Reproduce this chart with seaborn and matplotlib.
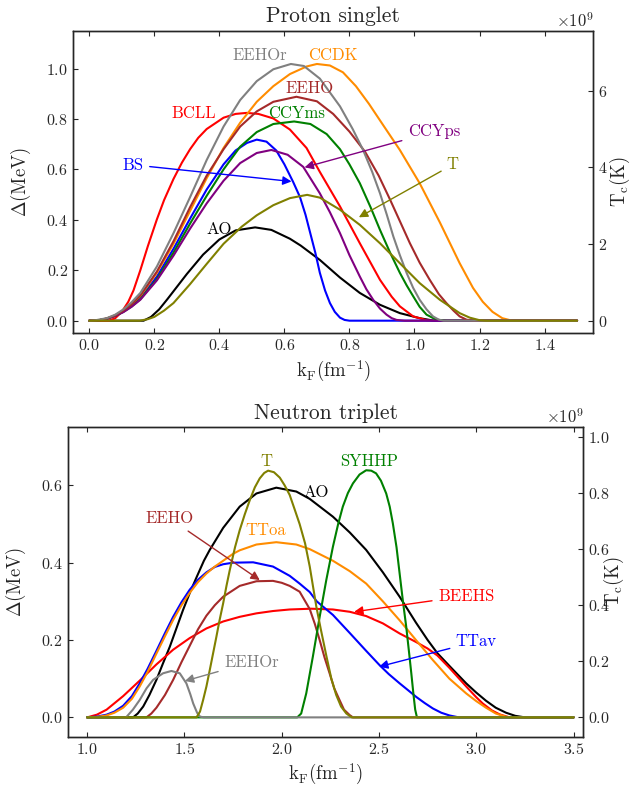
import numpy as np
import matplotlib
matplotlib.use('Agg')
import matplotlib.pyplot as plt
import seaborn as sns

# (kF [fm^-1], gap [MeV]) points

# ---- proton singlet ----
p_ao = [(0.0, 0), (0.167, 0), (0.19, 0.015), (0.215, 0.045), (0.24, 0.085), (0.27, 0.135),
        (0.3, 0.185), (0.35, 0.262), (0.4, 0.322), (0.45, 0.358), (0.51, 0.37), (0.56, 0.36),
        (0.617, 0.325), (0.65, 0.298), (0.709, 0.241), (0.771, 0.171), (0.832, 0.11),
        (0.894, 0.063), (0.955, 0.03), (1.016, 0.01), (1.06, 0), (1.5, 0)]
p_bcll = [(0.0, 0), (0.06, 0), (0.08, 0.01), (0.1, 0.035), (0.12, 0.075), (0.136, 0.12),
          (0.157, 0.2), (0.18, 0.295), (0.208, 0.402), (0.23, 0.478), (0.259, 0.562),
          (0.285, 0.627), (0.31, 0.68), (0.335, 0.725), (0.361, 0.76), (0.413, 0.805),
          (0.45, 0.82), (0.484, 0.824), (0.52, 0.82), (0.566, 0.802), (0.617, 0.758),
          (0.668, 0.685), (0.709, 0.59), (0.771, 0.453), (0.832, 0.307), (0.894, 0.162),
          (0.93, 0.095), (0.955, 0.057), (0.996, 0.017), (1.037, 0.002), (1.06, 0), (1.5, 0)]
p_bs = [(0.0, 0), (0.03, 0.002), (0.054, 0.008), (0.08, 0.02), (0.105, 0.037), (0.13, 0.06),
        (0.157, 0.09), (0.208, 0.175), (0.259, 0.285), (0.31, 0.405), (0.361, 0.52), (0.413, 0.62),
        (0.45, 0.675), (0.485, 0.705), (0.515, 0.718), (0.545, 0.71), (0.575, 0.675), (0.6, 0.62),
        (0.627, 0.55), (0.648, 0.49), (0.665, 0.42), (0.679, 0.35), (0.695, 0.27), (0.709, 0.19),
        (0.725, 0.12), (0.74, 0.07), (0.755, 0.035), (0.771, 0.012), (0.785, 0.003), (0.8, 0),
        (1.5, 0)]
p_ccdk = [(0.0, 0), (0.03, 0.002), (0.054, 0.009), (0.08, 0.022), (0.105, 0.04), (0.13, 0.065),
          (0.157, 0.097), (0.208, 0.19), (0.259, 0.305), (0.31, 0.435), (0.361, 0.565),
          (0.413, 0.685), (0.464, 0.785), (0.515, 0.868), (0.566, 0.93), (0.617, 0.978),
          (0.668, 1.008), (0.70, 1.018), (0.74, 1.012), (0.78, 0.985), (0.82, 0.93), (0.86, 0.86),
          (0.904, 0.775), (0.955, 0.677), (1.016, 0.545), (1.078, 0.39), (1.139, 0.228),
          (1.18, 0.13), (1.21, 0.075), (1.24, 0.035), (1.27, 0.01), (1.3, 0), (1.5, 0)]
p_ccyms = [(0.0, 0), (0.03, 0.002), (0.054, 0.008), (0.08, 0.019), (0.105, 0.035), (0.13, 0.056),
           (0.157, 0.085), (0.208, 0.165), (0.259, 0.27), (0.31, 0.385), (0.361, 0.495),
           (0.413, 0.6), (0.464, 0.69), (0.515, 0.748), (0.566, 0.78), (0.63, 0.79), (0.68, 0.78),
           (0.73, 0.74), (0.771, 0.68), (0.8, 0.62), (0.832, 0.545), (0.865, 0.45), (0.894, 0.36),
           (0.925, 0.27), (0.955, 0.19), (0.976, 0.14), (0.996, 0.097), (1.016, 0.055),
           (1.037, 0.024), (1.067, 0.004), (1.1, 0), (1.5, 0)]
p_ccyps = [(0.0, 0), (0.03, 0.002), (0.054, 0.008), (0.08, 0.019), (0.105, 0.034), (0.13, 0.055),
           (0.157, 0.083), (0.208, 0.16), (0.259, 0.258), (0.31, 0.365), (0.361, 0.465),
           (0.413, 0.555), (0.464, 0.625), (0.515, 0.665), (0.56, 0.677), (0.61, 0.658),
           (0.658, 0.61), (0.709, 0.505), (0.74, 0.43), (0.771, 0.347), (0.8, 0.26), (0.832, 0.175),
           (0.852, 0.125), (0.873, 0.083), (0.894, 0.048), (0.914, 0.024), (0.93, 0.01),
           (0.945, 0.003), (0.97, 0), (1.5, 0)]
p_eeho = [(0.0, 0), (0.03, 0.002), (0.054, 0.009), (0.08, 0.021), (0.105, 0.04), (0.13, 0.065),
          (0.157, 0.1), (0.208, 0.195), (0.259, 0.315), (0.31, 0.45), (0.361, 0.575), (0.413, 0.68),
          (0.464, 0.77), (0.515, 0.83), (0.566, 0.868), (0.637, 0.888), (0.7, 0.87), (0.75, 0.82),
          (0.8, 0.75), (0.848, 0.67), (0.89, 0.575), (0.925, 0.48), (0.955, 0.395), (0.986, 0.307),
          (1.016, 0.23), (1.047, 0.162), (1.075, 0.105), (1.098, 0.07), (1.12, 0.04),
          (1.139, 0.017), (1.16, 0.004), (1.18, 0), (1.5, 0)]
p_eehor = [(0.0, 0), (0.02, 0.002), (0.054, 0.01), (0.08, 0.024), (0.105, 0.045), (0.13, 0.073),
           (0.157, 0.11), (0.208, 0.215), (0.259, 0.347), (0.31, 0.49), (0.361, 0.637),
           (0.413, 0.77), (0.464, 0.875), (0.515, 0.95), (0.566, 0.997), (0.62, 1.018), (0.66, 1.01),
           (0.709, 0.96), (0.771, 0.85), (0.81, 0.76), (0.842, 0.677), (0.87, 0.59), (0.894, 0.505),
           (0.915, 0.42), (0.935, 0.334), (0.955, 0.26), (0.976, 0.189), (0.996, 0.13),
           (1.016, 0.083), (1.037, 0.045), (1.057, 0.017), (1.075, 0.004), (1.09, 0), (1.5, 0)]
p_t = [(0.0, 0), (0.155, 0), (0.18, 0.006), (0.2, 0.015), (0.23, 0.04), (0.259, 0.07), (0.31, 0.145),
       (0.361, 0.225), (0.413, 0.305), (0.469, 0.373), (0.515, 0.418), (0.566, 0.458),
       (0.617, 0.486), (0.67, 0.499), (0.709, 0.488), (0.771, 0.44), (0.832, 0.38), (0.894, 0.307),
       (0.955, 0.228), (1.016, 0.149), (1.078, 0.083), (1.139, 0.03), (1.17, 0.012), (1.2, 0.002),
       (1.22, 0), (1.5, 0)]

# ---- neutron triplet ----
n_ao = [(1.0, 0), (1.236, 0), (1.26, 0.01), (1.288, 0.028), (1.32, 0.058), (1.356, 0.097),
        (1.39, 0.14), (1.425, 0.183), (1.46, 0.232), (1.493, 0.278), (1.53, 0.325), (1.562, 0.362),
        (1.6, 0.405), (1.63, 0.433), (1.699, 0.49), (1.784, 0.545), (1.87, 0.579), (1.972, 0.594),
        (2.075, 0.584), (2.144, 0.565), (2.263, 0.519), (2.35, 0.478), (2.434, 0.433),
        (2.52, 0.375), (2.606, 0.312), (2.69, 0.245), (2.75, 0.2), (2.8, 0.166), (2.862, 0.133),
        (2.948, 0.088), (3.0, 0.064), (3.05, 0.043), (3.1, 0.025), (3.153, 0.012), (3.2, 0.004),
        (3.25, 0), (3.5, 0)]
n_beehs = [(1.0, 0), (1.05, 0.007), (1.1, 0.02), (1.185, 0.055), (1.27, 0.095), (1.356, 0.137),
           (1.442, 0.175), (1.527, 0.205), (1.613, 0.23), (1.699, 0.248), (1.784, 0.26),
           (1.87, 0.269), (1.955, 0.275), (2.041, 0.279), (2.15, 0.281), (2.263, 0.279),
           (2.35, 0.273), (2.434, 0.262), (2.52, 0.243), (2.606, 0.217), (2.69, 0.195),
           (2.75, 0.178), (2.8, 0.16), (2.862, 0.128), (2.948, 0.08), (3.0, 0.052), (3.033, 0.036),
           (3.08, 0.018), (3.119, 0.008), (3.17, 0), (3.5, 0)]
n_eeho = [(1.0, 0), (1.305, 0), (1.33, 0.01), (1.356, 0.025), (1.4, 0.058), (1.442, 0.097),
          (1.485, 0.143), (1.527, 0.185), (1.57, 0.228), (1.613, 0.263), (1.656, 0.29),
          (1.699, 0.312), (1.784, 0.34), (1.87, 0.352), (1.955, 0.353), (2.0, 0.348),
          (2.041, 0.34), (2.092, 0.325), (2.144, 0.28), (2.17, 0.242), (2.195, 0.2), (2.22, 0.155),
          (2.246, 0.114), (2.27, 0.075), (2.297, 0.045), (2.32, 0.02), (2.349, 0.006),
          (2.366, 0), (3.5, 0)]
n_ttav = [(1.0, 0), (1.05, 0.002), (1.1, 0.007), (1.14, 0.015), (1.185, 0.03), (1.23, 0.055),
          (1.27, 0.088), (1.31, 0.125), (1.356, 0.172), (1.4, 0.218), (1.442, 0.26), (1.485, 0.298),
          (1.527, 0.33), (1.57, 0.356), (1.613, 0.375), (1.656, 0.389), (1.699, 0.396),
          (1.75, 0.4), (1.853, 0.401), (1.955, 0.39), (2.041, 0.366), (2.092, 0.346),
          (2.144, 0.324), (2.18, 0.3), (2.263, 0.265), (2.35, 0.218), (2.434, 0.172),
          (2.503, 0.135), (2.55, 0.112), (2.606, 0.088), (2.65, 0.07), (2.691, 0.053),
          (2.735, 0.037), (2.777, 0.023), (2.82, 0.012), (2.862, 0.005), (2.91, 0), (3.5, 0)]
n_ttoa = [(1.0, 0), (1.05, 0.001), (1.1, 0.005), (1.14, 0.012), (1.185, 0.025), (1.23, 0.048),
          (1.27, 0.08), (1.31, 0.117), (1.356, 0.165), (1.4, 0.21), (1.442, 0.252), (1.485, 0.29),
          (1.527, 0.322), (1.57, 0.35), (1.613, 0.372), (1.656, 0.39), (1.699, 0.405),
          (1.75, 0.423), (1.784, 0.432), (1.87, 0.447), (1.972, 0.453), (2.075, 0.447),
          (2.144, 0.435), (2.263, 0.405), (2.35, 0.378), (2.434, 0.346), (2.52, 0.3),
          (2.606, 0.251), (2.69, 0.2), (2.777, 0.148), (2.862, 0.1), (2.948, 0.062), (3.0, 0.042),
          (3.05, 0.025), (3.1, 0.01), (3.15, 0.002), (3.18, 0), (3.5, 0)]
n_syhhp = [(1.0, 0), (2.08, 0), (2.1, 0.01), (2.126, 0.062), (2.16, 0.157), (2.195, 0.26),
           (2.229, 0.355), (2.263, 0.441), (2.29, 0.5), (2.314, 0.545), (2.34, 0.58),
           (2.366, 0.605), (2.4, 0.628), (2.434, 0.639), (2.46, 0.638), (2.485, 0.631),
           (2.51, 0.612), (2.537, 0.579), (2.555, 0.545), (2.571, 0.502), (2.59, 0.44),
           (2.606, 0.372), (2.623, 0.3), (2.64, 0.234), (2.654, 0.17), (2.666, 0.114),
           (2.677, 0.06), (2.686, 0.02), (2.695, 0), (3.5, 0)]
n_eehor = [(1.0, 0), (1.2, 0), (1.235, 0.02), (1.27, 0.045), (1.305, 0.075), (1.339, 0.097),
           (1.39, 0.114), (1.433, 0.12), (1.476, 0.114), (1.51, 0.088), (1.53, 0.06),
           (1.545, 0.036), (1.565, 0.012), (1.58, 0.002), (1.6, 0), (3.5, 0)]
n_t = [(1.0, 0), (1.562, 0), (1.58, 0.015), (1.596, 0.045), (1.613, 0.08), (1.63, 0.122),
       (1.647, 0.165), (1.664, 0.208), (1.68, 0.25), (1.699, 0.295), (1.716, 0.34), (1.733, 0.381),
       (1.76, 0.44), (1.784, 0.484), (1.81, 0.525), (1.836, 0.562), (1.862, 0.595), (1.887, 0.618),
       (1.91, 0.632), (1.93, 0.638), (1.96, 0.634), (1.99, 0.62), (2.015, 0.6), (2.041, 0.575),
       (2.065, 0.54), (2.092, 0.5), (2.12, 0.45), (2.144, 0.39), (2.178, 0.286), (2.2, 0.23),
       (2.229, 0.16), (2.255, 0.1), (2.28, 0.058), (2.305, 0.028), (2.332, 0.01), (2.36, 0),
       (3.5, 0)]

# Tc per MeV of gap
tc_per_mev_p = 6.58e9
tc_per_mev_n = 1.378e9

proton_curves = [('AO', p_ao, 'black'), ('BCLL', p_bcll, 'red'), ('BS', p_bs, 'blue'),
                 ('CCDK', p_ccdk, 'darkorange'), ('CCYms', p_ccyms, 'green'),
                 ('CCYps', p_ccyps, 'purple'), ('EEHO', p_eeho, 'brown'),
                 ('EEHOr', p_eehor, 'gray'), ('T', p_t, 'olive')]
neutron_curves = [('AO', n_ao, 'black'), ('BEEHS', n_beehs, 'red'), ('EEHO', n_eeho, 'brown'),
                  ('TTav', n_ttav, 'blue'), ('TToa', n_ttoa, 'darkorange'),
                  ('SYHHP', n_syhhp, 'green'), ('EEHOr', n_eehor, 'gray'), ('T', n_t, 'olive')]

# label text position, arrow tip (None = plain label)
proton_labels = {'EEHOr': ((0.525, 1.053), None), 'CCDK': ((0.748, 1.053), None),
                 'EEHO': ((0.676, 0.921), None), 'BCLL': ((0.321, 0.823), None),
                 'CCYms': ((0.638, 0.822), None), 'CCYps': ((1.06, 0.749), (0.662, 0.608)),
                 'BS': ((0.135, 0.618), (0.622, 0.552)), 'T': ((1.118, 0.619), (0.829, 0.41)),
                 'AO': ((0.398, 0.361), None)}
neutron_labels = {'T': ((1.92, 0.663), None), 'SYHHP': ((2.451, 0.663), None),
                  'AO': ((2.177, 0.583), None), 'EEHO': ((1.425, 0.514), (1.887, 0.355)),
                  'TToa': ((1.92, 0.484), None), 'EEHOr': ((1.844, 0.143), (1.502, 0.094)),
                  'BEEHS': ((2.948, 0.314), (2.372, 0.273)), 'TTav': ((3.0, 0.196), (2.5, 0.131))}

sns.set_style('ticks')
plt.rcParams.update({
    'font.family': ['cmr10'],
    'mathtext.fontset': 'cm',
    'axes.formatter.use_mathtext': True,
    'axes.unicode_minus': False,
    'xtick.direction': 'in',
    'ytick.direction': 'in',
    'xtick.top': True,
    'ytick.right': True,
    'axes.edgecolor': '.15',
    'text.color': '.15',
    'xtick.color': '.15',
    'ytick.color': '.15',
    'axes.linewidth': 1.0,
})


def draw_panel(ax, curves, labels, title, xlim, ylim, xticks, yticks, tc_factor, tc_ticks,
               ylab_x, tlab_x):
    for name, pts, color in curves:
        k = [p[0] for p in pts]
        gap = [p[1] for p in pts]
        sns.lineplot(x=k, y=gap, ax=ax, color=color, linewidth=1.5)
    for name, pts, color in curves:
        pos, tip = labels[name]
        if tip is None:
            ax.text(pos[0], pos[1], name, color=color, fontsize=12, ha='center', va='center')
        else:
            ax.annotate(name, xy=tip, xytext=pos, color=color, fontsize=12,
                        ha='center', va='center',
                        arrowprops=dict(arrowstyle='-|>', color=color, lw=1.0,
                                        shrinkA=2, shrinkB=0, mutation_scale=13))
    ax.set_xlim(*xlim)
    ax.set_ylim(*ylim)
    ax.set_xticks(xticks)
    ax.set_yticks(yticks)
    ax.tick_params(labelsize=11.5)
    ax.set_title(title, fontsize=15.5)
    ax.set_xlabel(r'k$_\mathrm{F}$(fm$^{-1}$)', fontsize=13.5)
    ax.set_ylabel(r'$\Delta$(MeV)', fontsize=13.5)
    ax.yaxis.set_label_coords(ylab_x, 0.5)

    ax2 = ax.twinx()
    ax2.set_ylim(ylim[0] * tc_factor, ylim[1] * tc_factor)
    ax2.set_yticks(tc_ticks)
    ax2.tick_params(direction='in', labelsize=11.5)
    ax2.yaxis.get_offset_text().set_fontsize(12)
    ax2.set_ylabel(r'T$_\mathrm{c}$(K)', fontsize=13.5)
    ax2.yaxis.set_label_coords(tlab_x, 0.5)
    return ax2


fig = plt.figure(figsize=(6.31, 7.87), dpi=100)
ax_top = fig.add_axes([0.1157, 0.5765, 0.8246, 0.3845])
ax_bot = fig.add_axes([0.1073, 0.0639, 0.8171, 0.3931])

draw_panel(ax_top, proton_curves, proton_labels, 'Proton singlet', (-0.05, 1.55), (-0.05, 1.15),
           np.arange(0, 1.41, 0.2), np.arange(0, 1.01, 0.2), tc_per_mev_p,
           [0, 2e9, 4e9, 6e9], -0.077, 1.028)
draw_panel(ax_bot, neutron_curves, neutron_labels, 'Neutron triplet', (0.9, 3.55), (-0.05, 0.75),
           np.arange(1.0, 3.51, 0.5), np.arange(0, 0.61, 0.2), tc_per_mev_n,
           [0, 0.2e9, 0.4e9, 0.6e9, 0.8e9, 1.0e9], -0.0764, 1.036)

fig.savefig('out.png', dpi=100)
